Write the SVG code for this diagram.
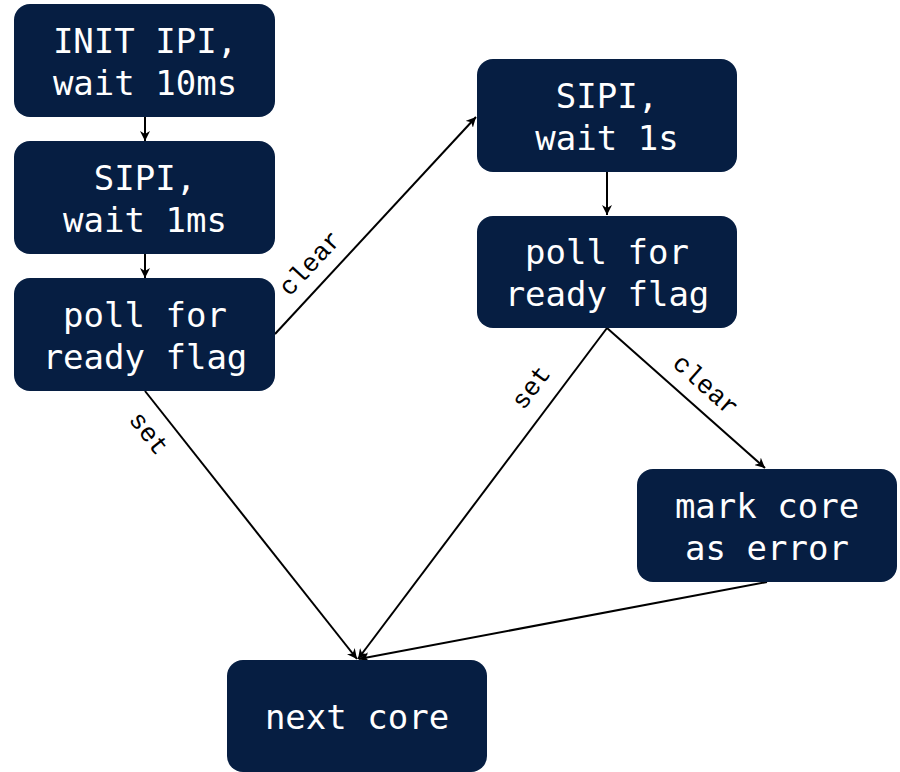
<svg xmlns="http://www.w3.org/2000/svg" width="900" height="772" viewBox="0 0 900 772">
<defs>
<marker id="arr" viewBox="0 0 10 10" refX="10" refY="5" markerWidth="10" markerHeight="10" markerUnits="userSpaceOnUse" orient="auto">
<path d="M0,0 L10,5 L0,10 L3,5 z" fill="#000"/>
</marker>
<style>
.node rect{fill:#061e42}
.node text{fill:#ffffff;font-family:"DejaVu Sans Mono","Liberation Mono",monospace;font-size:34px;text-anchor:middle}
.edge{stroke:#000;stroke-width:2;fill:none;marker-end:url(#arr)}
.lbl{fill:#000;font-family:"Liberation Mono","DejaVu Sans Mono",monospace;font-size:26px;text-anchor:middle;dominant-baseline:central}
</style>
</defs>
<rect width="900" height="772" fill="#fff"/>
<g id="connectors">
<line class="edge" x1="145" y1="117" x2="145" y2="141"/>
<line class="edge" x1="145" y1="254" x2="145" y2="278"/>
<line class="edge" x1="275" y1="334" x2="476" y2="117"/>
<line class="edge" x1="607" y1="172" x2="607" y2="215"/>
<line class="edge" x1="607" y1="328" x2="765" y2="468"/>
<line class="edge" x1="607" y1="328" x2="358" y2="659"/>
<line class="edge" x1="145" y1="391" x2="357" y2="659"/>
<line class="edge" x1="767" y1="582" x2="359" y2="659"/>
<text class="lbl" transform="translate(311,264) rotate(-47)">clear</text>
<text class="lbl" transform="translate(148,434) rotate(52)">set</text>
<text class="lbl" transform="translate(532,388) rotate(-53)">set</text>
<text class="lbl" transform="translate(705,386) rotate(41.6)">clear</text>
</g>
<g id="n1" class="node"><rect x="14" y="4" width="261" height="113" rx="16"/><text x="145" y="53">INIT IPI,</text><text x="145" y="95">wait 10ms</text></g>
<g id="n2" class="node"><rect x="14" y="141" width="261" height="113" rx="16"/><text x="145" y="190">SIPI,</text><text x="145" y="232">wait 1ms</text></g>
<g id="n3" class="node"><rect x="14" y="278" width="261" height="113" rx="16"/><text x="145" y="327">poll for</text><text x="145" y="369">ready flag</text></g>
<g id="n4" class="node"><rect x="477" y="59" width="260" height="113" rx="16"/><text x="607" y="108">SIPI,</text><text x="607" y="150">wait 1s</text></g>
<g id="n5" class="node"><rect x="477" y="216" width="260" height="112" rx="16"/><text x="607" y="264">poll for</text><text x="607" y="306">ready flag</text></g>
<g id="n6" class="node"><rect x="637" y="469" width="260" height="113" rx="16"/><text x="767" y="518">mark core</text><text x="767" y="560">as error</text></g>
<g id="n7" class="node"><rect x="227" y="660" width="260" height="112" rx="16"/><text x="357" y="729">next core</text></g>
</svg>
